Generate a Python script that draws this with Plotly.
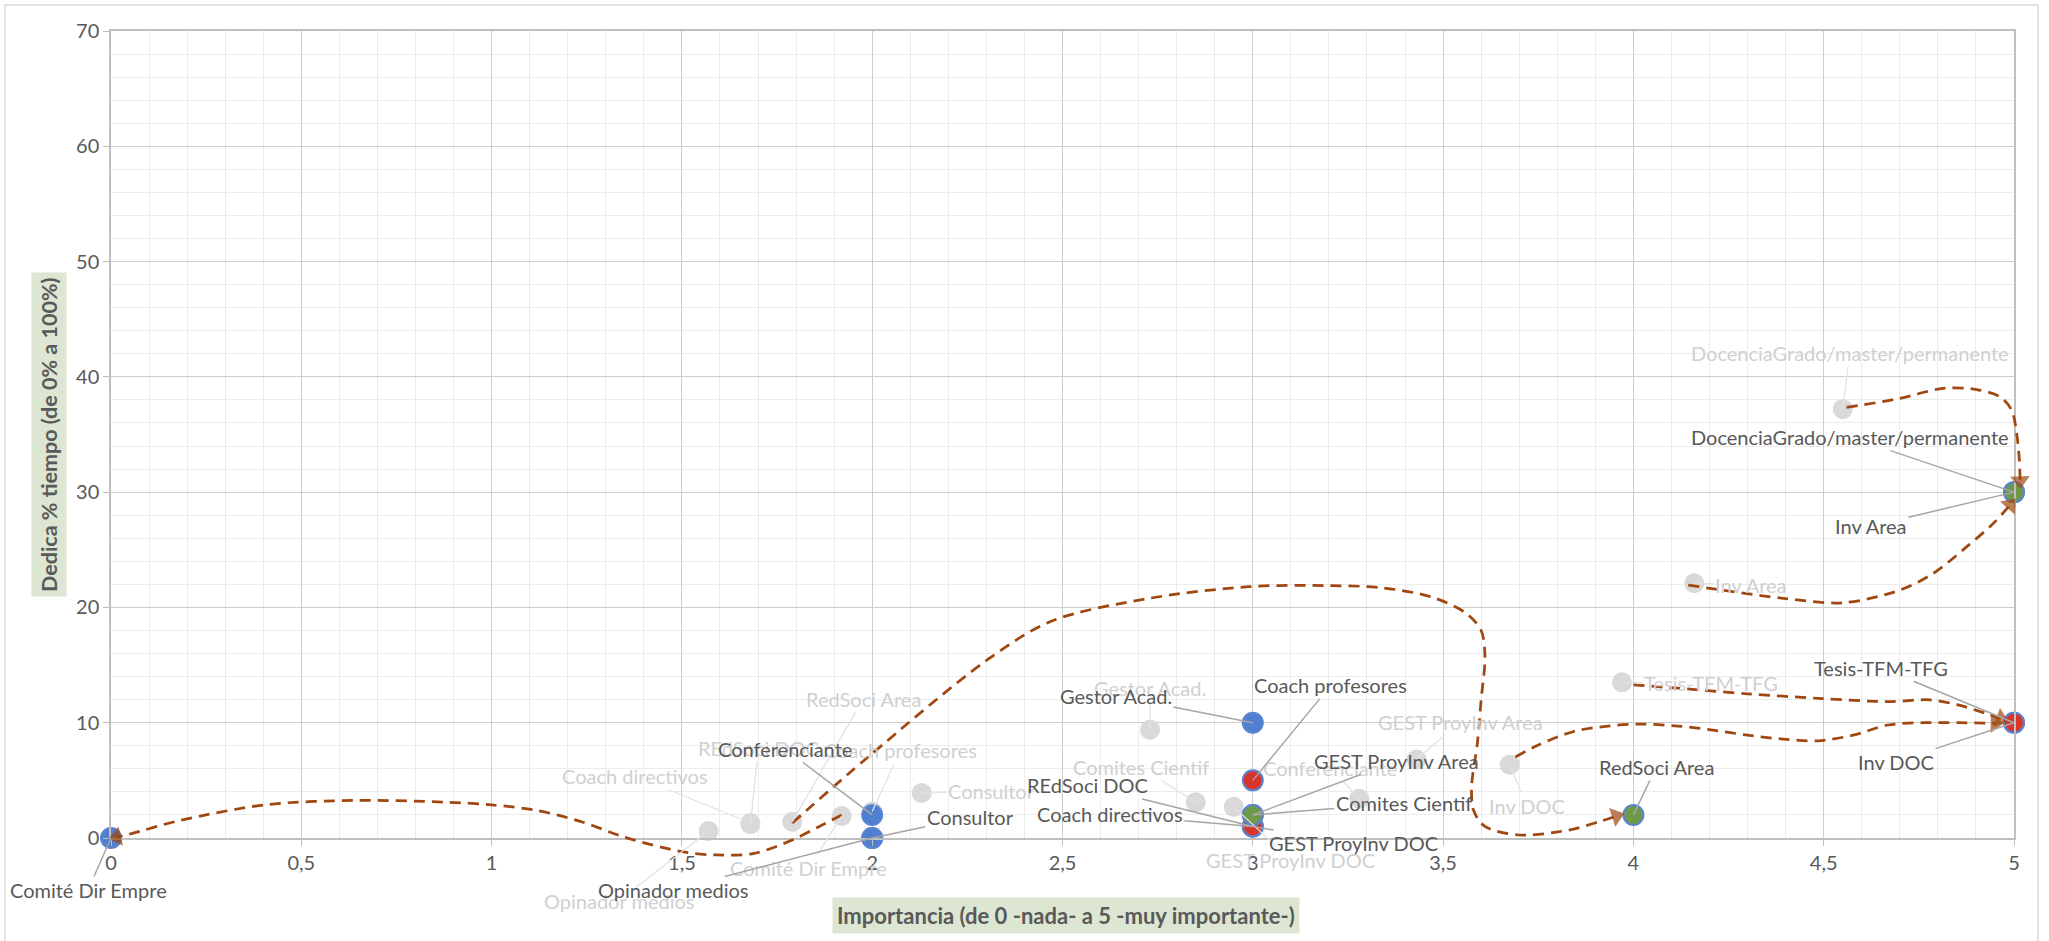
import plotly.graph_objects as go

# --- data -------------------------------------------------------------------
# grey points: previous situation
roles_prev = ["Opinador medios", "Coach directivos", "REdSoci DOC", "RedSoci Area",
              "Comité Dir Empre", "Coach profesores", "Consultor", "Gestor Acad.",
              "Comites Cientif", "GEST ProyInv DOC", "Conferenciante", "GEST ProyInv Area",
              "Inv DOC", "Tesis-TFM-TFG", "Inv Area", "DocenciaGrado/master/permanente"]
imp_prev = [1.57, 1.68, 1.68, 1.79, 1.92, 2.0, 2.13, 2.73, 2.85, 2.95, 3.28, 3.43,
            3.675, 3.97, 4.16, 4.55]
ded_prev = [0.6, 1.3, 1.2, 1.4, 1.9, 2.3, 3.9, 9.4, 3.1, 2.7, 3.4, 6.8,
            6.35, 13.5, 22.1, 37.2]

# coloured points: current situation
roles_now = ["Comité Dir Empre", "Opinador medios", "Consultor", "Conferenciante",
             "Gestor Acad.", "Coach profesores", "REdSoci DOC", "Coach directivos",
             "GEST ProyInv DOC", "GEST ProyInv Area", "Comites Cientif", "RedSoci Area",
             "DocenciaGrado/master/permanente", "Inv Area", "Tesis-TFM-TFG", "Inv DOC"]
imp_now = [0, 2, 2, 2, 3, 3, 3, 3, 3, 3, 3, 4, 5, 5, 5, 5]
ded_now = [0, 0, 0, 2, 10, 5, 1, 1, 1, 2, 2, 2, 30, 30, 10, 10]

# hand drawn dashed arrows (grey point -> new point), waypoints
arrow1_x = [1.92, 1.86, 1.79, 1.69, 1.59, 1.50, 1.35, 1.24, 1.12, 1.0, 0.88, 0.65, 0.41, 0.18, 0.05, 0.015]
arrow1_y = [2.0, 0.98, -0.17, -1.33, -1.47, -1.19, 0.06, 1.37, 2.38, 2.88, 3.11, 3.26, 2.9, 1.51, 0.35, 0.08]
arrow2_x = [1.79, 1.99, 2.30, 2.47, 2.73, 2.99, 3.19, 3.34, 3.47, 3.56, 3.60, 3.61, 3.60,
            3.59, 3.575, 3.58, 3.61, 3.70, 3.83, 3.91, 3.955]
arrow2_y = [1.3, 7.05, 15.4, 18.8, 20.8, 21.8, 21.9, 21.7, 20.9, 19.5, 18.0, 15.7, 12.0,
            8.2, 4.5, 2.4, 1.0, 0.26, 0.69, 1.41, 1.9]
arrow3_x = [3.69, 3.749, 3.841, 3.933, 4.025, 4.117, 4.209, 4.30, 4.393, 4.485, 4.577,
            4.669, 4.761, 4.853, 4.95]
arrow3_y = [7.03, 8.05, 9.22, 9.71, 9.88, 9.71, 9.36, 8.92, 8.58, 8.43, 8.92,
            9.80, 10.0, 10.0, 9.95]
arrow4_x = [4.00, 4.117, 4.30, 4.485, 4.669, 4.779, 4.853, 4.926, 4.965]
arrow4_y = [13.28, 12.99, 12.5, 12.12, 11.83, 11.98, 11.54, 10.81, 10.35]
arrow5_x = [4.144, 4.263, 4.394, 4.55, 4.70, 4.788, 4.876, 4.946, 4.99]
arrow5_y = [21.94, 21.36, 20.79, 20.4, 21.5, 22.96, 25.27, 27.3, 28.9]
arrow6_x = [4.56, 4.70, 4.814, 4.902, 4.963, 4.994, 5.007, 5.014, 5.016]
arrow6_y = [37.35, 38.13, 39.0, 38.9, 38.27, 37.1, 35.1, 32.8, 31.0]

# --- styling ------------------------------------------------------------------
W, H = 2049, 941
FONT = "Lato"
BLUE, RED, GREEN = "#4f7fce", "#d8352d", "#6e9a48"
BROWN = "#A0470F"
fill_now = [BLUE, BLUE, BLUE, BLUE, BLUE, RED, RED, RED, RED, GREEN, GREEN, GREEN,
            GREEN, GREEN, RED, RED]

# label offsets in pixels (text centre relative to point)
off_now = {"Comité Dir Empre": (-23, 52), "Opinador medios": (-199, 52),
           "Consultor": (98, -21), "Conferenciante": (-87, -66),
           "Gestor Acad.": (-137, -27), "Coach profesores": (78, -95),
           "GEST ProyInv Area": (144, -54), "Comites Cientif": (151, -12),
           "REdSoci DOC": (-165, -41), "Coach directivos": (-143, -12),
           "GEST ProyInv DOC": (101, 17), "RedSoci Area": (23, -48),
           "DocenciaGrado/master/permanente": (-164, -55), "Inv Area": (-143, 34),
           "Tesis-TFM-TFG": (-133, -55), "Inv DOC": (-118, 39)}
off_prev = {"Opinador medios": (-90, 70), "Coach directivos": (-115, -47),
            "REdSoci DOC": (8, -76), "RedSoci Area": (71, -123),
            "Comité Dir Empre": (-33, 52), "Coach profesores": (28, -61),
            "Consultor": (70, -2), "Gestor Acad.": (0, -42),
            "Comites Cientif": (-55, -35), "GEST ProyInv DOC": (57, 53),
            "Conferenciante": (-29, -31), "GEST ProyInv Area": (44, -38),
            "Inv DOC": (17, 41), "Tesis-TFM-TFG": (89, 1), "Inv Area": (57, 2),
            "DocenciaGrado/master/permanente": (7, -56)}

# plot area in pixels
px_l, px_r, px_t, px_b = 111, 2014, 31, 838
dom_x = [px_l / W, px_r / W]
dom_y = [(H - px_b) / H, (H - px_t) / H]
X_MAX, Y_MAX = 5, 70
kx = X_MAX / (dom_x[1] - dom_x[0])
ky = Y_MAX / (dom_y[1] - dom_y[0])
range_x2 = [-dom_x[0] * kx, X_MAX + (1 - dom_x[1]) * kx]
range_y2 = [-dom_y[0] * ky, Y_MAX + (1 - dom_y[1]) * ky]

fig = go.Figure()

fig.add_trace(go.Scatter(
    x=imp_prev, y=ded_prev, mode="markers", cliponaxis=False, hoverinfo="skip",
    marker=dict(size=20, color="#d9d9d9", line=dict(width=0)), showlegend=False))

fig.add_trace(go.Scatter(
    x=imp_now, y=ded_now, mode="markers", cliponaxis=False, hoverinfo="skip",
    marker=dict(size=20, color=fill_now, line=dict(width=2, color="#5b84d0")),
    showlegend=False))

# dashed arrows on a full-page overlay subplot (so they can leave the plot area)
for ax_, ay_ in [(arrow1_x, arrow1_y), (arrow2_x, arrow2_y), (arrow3_x, arrow3_y),
                 (arrow4_x, arrow4_y), (arrow5_x, arrow5_y), (arrow6_x, arrow6_y)]:
    sizes = [0] * (len(ax_) - 1) + [17]
    fig.add_trace(go.Scatter(
        x=ax_, y=ay_, xaxis="x2", yaxis="y2", mode="lines+markers",
        line=dict(color=BROWN, width=2.75, dash="11px,7px", shape="spline", smoothing=0.9),
        marker=dict(symbol="triangle-up", size=sizes, color=BROWN, angleref="previous",
                    line=dict(width=0)),
        hoverinfo="skip", showlegend=False))

annotations = []
for name, x, y in zip(roles_prev, imp_prev, ded_prev):
    dx, dy = off_prev[name]
    annotations.append(dict(x=x, y=y, xref="x", yref="y", text=name, showarrow=True,
                            arrowhead=0, arrowwidth=1.3, arrowcolor="#e3e3e3",
                            ax=dx, ay=dy, font=dict(family=FONT, size=20, color="#d0d0d0")))
for name, x, y in zip(roles_now, imp_now, ded_now):
    dx, dy = off_now[name]
    annotations.append(dict(x=x, y=y, xref="x", yref="y", text=name, showarrow=True,
                            arrowhead=0, arrowwidth=1.5, arrowcolor="#a6a6a6",
                            ax=dx, ay=dy, font=dict(family=FONT, size=20, color="#595959")))

# axis titles with green boxes
annotations.append(dict(x=1066 / W, y=1 - 915 / H, xref="paper", yref="paper",
                        xanchor="center", yanchor="middle",
                        text="<b>Importancia (de 0 -nada- a 5 -muy importante-)</b>",
                        showarrow=False, bgcolor="#dce6d2", borderpad=4,
                        font=dict(family=FONT, size=22, color="#595959")))
annotations.append(dict(x=49 / W, y=1 - 435 / H, xref="paper", yref="paper",
                        xanchor="center", yanchor="middle",
                        text="<b>Dedica % tiempo (de 0% a 100%)</b>", textangle=-90,
                        showarrow=False, bgcolor="#dce6d2", borderpad=4,
                        font=dict(family=FONT, size=21.5, color="#595959")))

axis_common = dict(showline=True, linecolor="#bfbfbf", linewidth=1.5, mirror=True,
                   showgrid=True, gridcolor="#cdcdcd", gridwidth=1.3, zeroline=False,
                   ticks="outside", ticklen=6, tickcolor="#bfbfbf", automargin=False,
                   tickfont=dict(family=FONT, size=20, color="#595959"), fixedrange=True)

fig.update_layout(
    width=W, height=H, autosize=False,
    margin=dict(l=0, r=0, t=0, b=0, pad=0, autoexpand=False),
    paper_bgcolor="white", plot_bgcolor="rgba(0,0,0,0)",
    separators=", ",
    xaxis=dict(domain=dom_x, range=[0, X_MAX], dtick=0.5, anchor="y",
               minor=dict(dtick=0.1, showgrid=True, gridcolor="#ececec", gridwidth=1),
               **axis_common),
    yaxis=dict(domain=dom_y, range=[0, Y_MAX], dtick=10, anchor="x",
               minor=dict(dtick=2, showgrid=True, gridcolor="#ececec", gridwidth=1),
               **axis_common),
    xaxis2=dict(domain=[0, 1], range=range_x2, anchor="y2", visible=False, fixedrange=True),
    yaxis2=dict(domain=[0, 1], range=range_y2, anchor="x2", visible=False, fixedrange=True),
    annotations=annotations,
    shapes=[dict(type="rect", xref="paper", yref="paper", x0=5 / W, x1=2038 / W,
                 y0=-0.02, y1=1 - 5 / H, line=dict(color="#d9d9d9", width=1.5),
                 layer="below")],
)

fig.write_html("out.html", config={"displayModeBar": False},
               post_script="document.body.style.margin='0';document.body.style.overflow='hidden';")
